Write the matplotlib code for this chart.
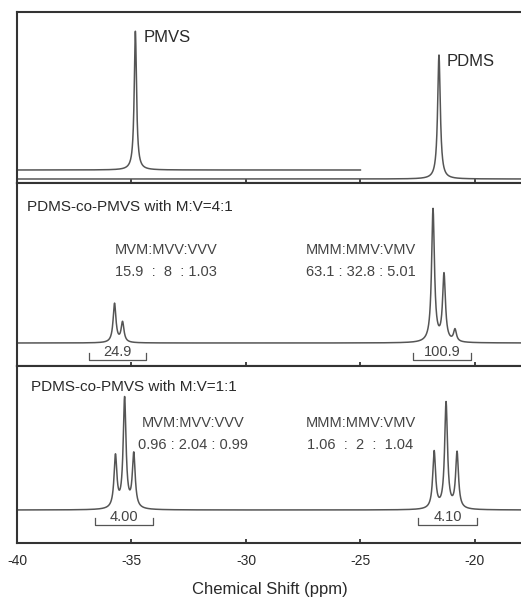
import numpy as np
from matplotlib import pyplot as plt

plt.rcParams['font.family'] = ['Liberation Sans', 'DejaVu Sans']

# peak lists: (shift ppm, height) - heights in arbitrary units
PMVS_PEAKS = [(-34.83, 139)]
PDMS_PEAKS = [(-21.57, 124)]
CO41_PEAKS = [(-35.74, 39), (-35.39, 20), (-21.83, 133), (-21.35, 67), (-20.87, 12)]
CO11_PEAKS = [(-35.70, 52), (-35.30, 110), (-34.90, 54),
              (-21.78, 57), (-21.26, 106), (-20.78, 56)]

# integral brackets: (start ppm, end ppm, label)
CO41_INTEGRALS = [(-36.87, -34.35, '24.9'), (-22.70, -20.17, '100.9')]
CO11_INTEGRALS = [(-36.60, -34.04, '4.00'), (-22.48, -19.91, '4.10')]

CO41_RATIOS = [('MVM:MVV:VVV', '15.9  :  8  : 1.03', -33.5),
               ('MMM:MMV:VMV', '63.1 : 32.8 : 5.01', -25.0)]
CO11_RATIOS = [('MVM:MVV:VVV', '0.96 : 2.04 : 0.99', -32.3),
               ('MMM:MMV:VMV', '1.06  :  2  :  1.04', -25.0)]

XTICKS = [-40, -35, -30, -25, -20]
LINE = '#555555'
TXT = '#2a2a2a'


def spectrum(x, peaks, base, width=0.075):
    y = np.full_like(x, base, dtype=float)
    for pos, h in peaks:
        y += h / (1 + ((x - pos) / width) ** 2)
    return y


fig = plt.figure(figsize=(5.21, 5.97), dpi=100)
gs = fig.add_gridspec(3, 1, left=17 / 521, right=523 / 521, top=1 - 12 / 597,
                      bottom=1 - 543 / 597, hspace=0, height_ratios=[171, 183, 177])
axs = [fig.add_subplot(gs[i]) for i in range(3)]

x = np.linspace(-40, -17.9, 4000)

for ax, h in zip(axs, [171, 183, 177]):
    ax.set_xlim(-40, -17.9)
    ax.set_ylim(0, h)
    ax.set_yticks([])
    ax.set_xticks(XTICKS)
    ax.tick_params(axis='x', direction='in', length=3, width=1.2, color='#222222',
                   labelbottom=False)
    ax.spines['right'].set_visible(False)
    for s in ['left', 'top', 'bottom']:
        ax.spines[s].set_linewidth(1.5)
        ax.spines[s].set_color('#333333')

# top panel: pure homopolymers
ax = axs[0]
xa = x[x <= -25]
ax.plot(xa, spectrum(xa, PMVS_PEAKS, 13, 0.06), color=LINE, lw=1.1)
ax.plot(x, spectrum(x, PDMS_PEAKS, 4, 0.07), color=LINE, lw=1.1)
ax.text(-34.45, 145, 'PMVS', fontsize=12, color=TXT, va='center')
ax.text(-21.25, 121, 'PDMS', fontsize=12, color=TXT, va='center')


def draw_integrals(ax, items, y0, tick):
    for a, b, lab in items:
        ax.plot([a, a, b, b], [y0 + tick, y0, y0, y0 + tick], color=LINE, lw=0.9)
        ax.text((a + b) / 2, y0 + 1, lab, fontsize=10.5, color='#444444',
                ha='center', va='bottom')


def draw_ratios(ax, items, y1, y2):
    for head, vals, xc in items:
        ax.text(xc, y1, head, fontsize=10.5, color='#444444', ha='center', va='center')
        ax.text(xc, y2, vals, fontsize=10.5, color='#444444', ha='center', va='center')


# middle panel: M:V = 4:1
ax = axs[1]
ax.plot(x, spectrum(x, CO41_PEAKS, 23), color=LINE, lw=1.1)
ax.text(-39.55, 159, 'PDMS-co-PMVS with M:V=4:1', fontsize=11, color=TXT, va='center')
draw_integrals(ax, CO41_INTEGRALS, 6, 7)
draw_ratios(ax, CO41_RATIOS, 116, 94)

# bottom panel: M:V = 1:1
ax = axs[2]
ax.plot(x, spectrum(x, CO11_PEAKS, 33), color=LINE, lw=1.1)
ax.text(-39.4, 156, 'PDMS-co-PMVS with M:V=1:1', fontsize=11, color=TXT, va='center')
draw_integrals(ax, CO11_INTEGRALS, 18, 7)
draw_ratios(ax, CO11_RATIOS, 120, 98)
ax.tick_params(axis='x', labelbottom=True, labelsize=10, labelcolor=TXT, pad=8)
ax.set_xticklabels([str(t) for t in XTICKS])
ax.set_xlabel('Chemical Shift (ppm)', fontsize=12, color=TXT, labelpad=10)

fig.savefig('out.png', dpi=100)
